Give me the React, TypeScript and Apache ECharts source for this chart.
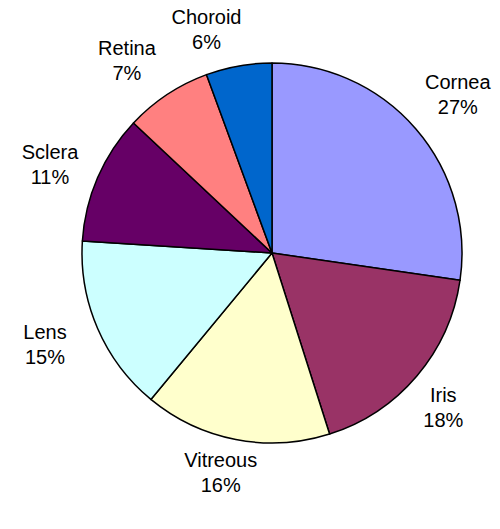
import React, { useEffect, useRef } from "react";
import * as echarts from "echarts";

const categories = ["Cornea", "Iris", "Vitreous", "Lens", "Sclera", "Retina", "Choroid"];
const values = [27.3, 17.8, 15.9, 15.0, 11.0, 7.4, 5.6];
const colors = ["#9999FF", "#993366", "#FFFFCC", "#CCFFFF", "#660066", "#FF8080", "#0066CC"];
const labelOffsets: number[][] = [[2, 0], [-14, -3], [-5, -19], [-4, -5], [1, 8], [-11, 10], [-23, 16]];

export default function App() {
  const ref = useRef<HTMLDivElement>(null);
  useEffect(() => {
    if (!ref.current) return;
    const chart = echarts.init(ref.current, null, { renderer: "svg" });
    chart.setOption({
      animation: false,
      backgroundColor: "#ffffff",
      series: [
        {
          type: "pie",
          center: [272, 253],
          radius: [0, 190],
          startAngle: 90,
          clockwise: true,
          silent: true,
          label: { show: false },
          labelLine: { show: false },
          itemStyle: { borderColor: "#000000", borderWidth: 1.5 },
          data: categories.map((c, i) => ({
            name: c,
            value: values[i],
            itemStyle: { color: colors[i] },
          })),
        },
        {
          type: "pie",
          center: [272, 253],
          radius: [190, 290],
          startAngle: 90,
          clockwise: true,
          silent: true,
          labelLine: { show: false },
          itemStyle: { color: "rgba(0,0,0,0)", borderWidth: 0 },
          label: {
            show: true,
            position: "inside",
            color: "#000000",
            fontFamily: "Liberation Sans, Arial, sans-serif",
            fontSize: 20,
            lineHeight: 25,
            align: "center",
            formatter: (p: any) => `${p.name}\n${Math.round(p.percent)}%`,
          },
          data: categories.map((c, i) => ({
            name: c,
            value: values[i],
            label: { offset: labelOffsets[i] },
          })),
        },
      ],
    });
    return () => chart.dispose();
  }, []);
  return (
    <div
      ref={ref}
      style={{ position: "absolute", left: 0, top: 0, width: 500, height: 529 }}
    />
  );
}
